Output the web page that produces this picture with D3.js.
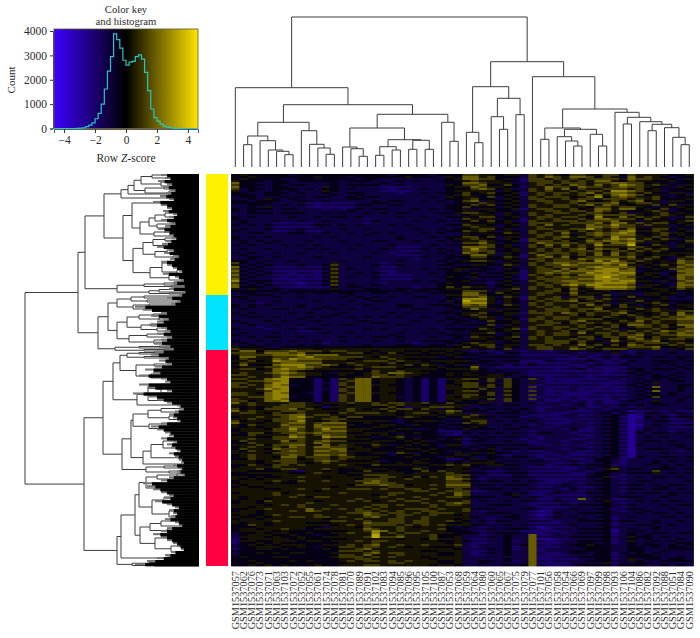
<!DOCTYPE html>
<html><head><meta charset="utf-8">
<script src="https://cdn.jsdelivr.net/npm/d3@7"></script>
<style>html,body{margin:0;background:#fff}svg{display:block}text{font-family:"Liberation Serif",serif;fill:#2a2a2a}</style>
</head><body><div id="c"></div>
<script>
const sampleIds = ["057","062","076","073","071","063","103","072","052","055","061","074","078","081","070","089","091","102","083","094","085","096","095","105","100","087","053","068",
"059","064","080","060","065","067","075","079","077","101","056","058","054","066","069","097","099","098","093","106","104","086","082","092","088","051","084","090"];
const sampleNames = sampleIds.map(d=>"GSM1537"+d);

const histBinStart = [-3.2,-3,-2.8,-2.6,-2.4,-2.2,-2,-1.8,-1.6,-1.4,-1.2,-1,-0.8,-0.6,-0.4,-0.2,0,0.2,0.4,0.6,0.8,1,1.2,1.4,1.6,1.8,2,2.2,2.4,2.6,2.8,3,3.2,3.4];
const histCounts   = [5,15,30,80,140,230,400,620,1000,1620,2350,2950,3880,3650,3300,2800,2600,2720,2750,2950,3020,2850,2300,1550,800,450,300,180,100,60,30,15,8,3];
const histTicksX = [-4,-2,0,2,4];
const histTicksY = [0,1000,2000,3000,4000];

const rowGroups = [{name:"yellow",from:0,to:121,color:"#fff200"},{name:"cyan",from:121,to:176,color:"#00e4ff"},{name:"red",from:176,to:392,color:"#ff0040"}];

// column dendrogram: [height, childA, childB]; a plain number is a leaf column index
const colTree = [150,
 [79.3,0,[62.3,
   [44.7,
     [31,[22.3,1,2],[26.3,3,[17,4,[15.7,5,[12.3,6,7]]]]],
     [36.3,8,[22.7,9,[19,10,[12.7,11,12]]]]],
   [52.7,
     [39,
       [20,13,[18.3,14,[10.7,15,16]]],
       [27.3,[20.3,[11.7,17,18],[17,19,20]],[26.7,[17.7,21,22],[17.7,23,24]]]],
     [44.7,25,[25.7,26,27]]]]],
 [105.3,
   [80.3,
     [34.7,28,[24.3,29,30]],
     [68.7,[50.3,31,[37.7,32,33]],[52.3,34,35]]],
   [90.3,36,[58,
     [39,[27.7,37,38],[37.7,[30.3,39,[26,40,[21,41,42]]],[32.7,43,[21,44,45]]]],
     [54.7,46,[49.7,[43,47,48],[45.3,49,[42.7,[36.3,50,51],[39.3,52,[29.7,53,[22.3,54,55]]]]]]]]]]];

// row dendrogram: [height, childA, childB]; a plain number is a leaf row position
const rowTree = [174,
 [121,
  [114,
   [95,
    [78,[71,[65,[58,[47,1,4],[38,8,12]],[54,[35,13,15],[30,17,21]]],20],24],
    [76,
     [67,29,[59,[50,[44,[34,39,43],[30,46,48]],[42,50,54]],[45,[30,57,59],[25,61,63]]]],
     [66,[56,[46,[34,64,67],[30,70,73]],[44,[32,76,79],[26,82,84]]],
         [49,[37,[24,[14,86,88],[10,90,92]],[22,[12,95,97],[8,99,101]]],[30,[14,100,103],[10,105,107]]]]]],
   [82,[55,[35,[25,108,110],111],[28,112,113]],[50,[40,[20,115,116],118],[30,119,120]]]],
  [101,
   [91,
    [82,[68,[55,122,124],[52,126,128]],[66,[50,130,132],[46,134,136]]],
    [82,[72,[60,[46,140,142],[40,144,146]],[58,[48,150,152],[42,154,157]]],[70,[52,160,163],[45,166,170]]]],
   [84,[60,[40,172,173],174],[55,[35,175,176],177]]]],
 [115,
  [96,
   [86,
    [79,[72,[60,[45,178,179],180],[55,[40,182,183],184]],[63,[45,190,192],[48,[30,199,201],[28,203,205]]]],
    [62,[51,[38,[25,[15,207,209],[11,211,213]],[22,[12,216,218],[10,220,222]]],[24,225,228]],231]],
   [77,
    [68,
     [66,[51,[38,[20,234,235],[16,237,239]],[30,[14,241,243],[12,245,246]]],[50,[30,249,251],[28,253,256]]],
     [56,[48,[36,[24,266,268],[18,[10,271,273],[8,275,277]]],[20,[12,280,283],[10,285,287]]],290]],
    [53,[35,292,294],[30,297,299]]]],
  [82,
   [78,
    [64,
     [60,[53,[42,[22,300,302],[18,304,306]],[36,[20,310,312],[14,316,318]]],
         [47,[35,[24,322,324],[14,[10,326,328],[8,330,332]]],[30,[16,336,338],[12,342,344]]]],
     [59,[49,[38,[20,346,348],352],[32,[18,354,356],358]],
         [44,[30,[20,361,363],[14,365,367]],[28,[14,371,373],[10,376,379]]]]],
    [32,383,385]],
   [67,[50,[35,388,389],390],[45,391,392]]]]];

// extent of the dense leaf mass, top to bottom, one value per 3 rows
const leafMass = [38,34,41,32,36,28,33,39,30,46,38,
32,36,26,30,38,28,34,41,35,30,27,
33,37,42,30,35,24,29,38,32,26,20,
36,24,18,26,17,30,16,20,32,22,28,
64,56,38,48,36,42,50,38,34,42,32,
38,44,34,30,42,48,36,40,32,44,54,
46,60,38,34,60,52,32,
66,50,42,32,22,18,24,30,26,22,
38,48,42,34,30,38,26,32,28,22,30,
24,20,18,26,20,22,17,30,38,
56,52,46,38,30,34,44,32,24,30,
26,28,34,24,20,32,38,46,38,32,
26,22,18,28,34,42,52,64];

// upper stripe of each row block
const heatRowsA = [
"4544444344444444444344443444 6655455365654665566465555445",
"4544443344344443443333333345 7766453266565656666576655435",
"7443344333334333334333333344 7765553356656665667766454344",
"7443344333354333332222333345 5765544255766576656766544354",
"5343343433354333332222333345 5555354365655656658876553444",
"4443443333334334333333333345 6445454256565565757876453345",
"3343543433333344333333333344 5644354366556566566656564445",
"4444433332222223344333333334 5565354355655656667456653544",
"3343533332222223333333333344 6444354365566554665665435454",
"4343333333333343333333333334 5545443355665665765544565344",
"3333333333333333333333333333 4555354365655565766665456545",
"4333333333333333233333333333 6555344256565565776664654345",
"3433322222333333233333333333 5445454366655666757756566454",
"3333322222333333333333333333 5655344356555557767665355344",
"4333322332233333333333333344 6565354365566465656785565345",
"3333333333333333433333333333 5445444356656456767775456454",
"4333333333333333333343333345 5654354265565546568785646535",
"3433433333333333333333333333 6675344357666656757785354345",
"3333333333333333333322233333 7776454365656565655566545354",
"3333333333333333333322233343 6766445356565666646656565444",
"3433333333333333333322233343 5775354257656565757565455545",
"3343333333333333333333233343 4554454366566576777565654365",
"6434333333335333332333333344 4444354365677677787764545576",
"7434322232235333332233333334 4443343356566667877763545576",
"7434322222235333332233333345 3443344256676777888773444377",
"7434322222235333332222333344 4433343265656577888774543477",
"7433322222235333332222333344 4333343256666677888774444376",
"6434322212235333332333333454 4332343356566777888874443376",
"7444332222224344333333233464 6553445365655656888875544576",
"4444443444444444444443443444 6663554355664654454444445444",
"3344433333333343333333333355 7764454356554655463353554434",
"3433333333333333433333333343 8885454265665656563545345333",
"3332333333333333333333333334 8885354365655566453554565344",
"4343333343343333333344333344 6664444356565655654655454445",
"3333333333333333333333333343 4453544365666565665654565566",
"3433333333334333333333333334 5654453355655646556565456576",
"3333333343333333333333333344 3455354266566566645546656677",
"3433333333333333344333333334 3335445355664656565566565566",
"3332333323333333333333333333 3354345365566565656456656557",
"3333333322333333333333333334 3445454356556465556565657667",
"4333333333333333333433333344 4544345356566555565667556677",
"3333333333333333333333333334 3554454365655656346467565665",
"3433333333323333333333233344 5655344355666464535465666565",
"5444334444444444444444444444 6456354356655656455566674455",
"5774666766656655545554454454 3232333233233434434323333333",
"5666677786777555555554444454 4433333222222333232333333333",
"4655576877766654555654444444 4433333333322223232333333343",
"4655567777755565555645554454 4443333232222332322333334333",
"4555667787654445566654454544 4733222222222323222233333343",
"5555577654444444465565544444 4543433322222222222234333333",
"6655567665544544566565544454 5545543322222322222234343433",
"6655788444242657745543424255 6646364363222222223234343433",
"6655688444232657745543424245 6645364353222222222234353333",
"6655788444242567745543424255 6656364363222322222234373343",
"5555688444242657745543424245 6645364363222322222234373343",
"6655788444242657745543424255 6646364363222222222234343433",
"6555787444242657745543424255 5546364363222322223234333343",
"7565555665455565565665564464 4453333342333332322333343333",
"5454566665425555544642556665 3333333332233332232323333333",
"7565556665555565554645555576 4443334332333222334312232322",
"5555566775665555555545555455 5653333322223322334312333233",
"5565566775566644444434444433 5553333333222322334312333223",
"7554556775677744544434444433 6563333333222332334312333222",
"5454556775777744455444444433 4543333433233332334312333222",
"4555566765677755444544444222 3333333323333322334313333233",
"4465555765676655545454444322 3333333323333322334313333333",
"5565566665565555544454544345 2343333232333223334313333333",
"4465556665765555554444544444 2333333322333332334313333333",
"4565565765776655454454444344 3434333333333332334313333343",
"5465556765776755544454454433 4444332322333322334313333323",
"4565556765776754444344544445 5444323322323222334313333333",
"4465556645665655544444454422 4534333333223223443233333333",
"5554556654565555554454554454 5555433333322323343233343333",
"4555565555555555444444554445 5433333322222233345333334333",
"5544445325545444644544464655 5332233322222332344333363333",
"4444455555555544666555555566 6332223322222223443233333333",
"5454555555555554666556555577 6323333332222223343233333333",
"4555454455555555776655555566 6333333332223323343233333333",
"4544555555554555555665555566 6333333332233322343233334333",
"5555555555455555555555665566 6223333322233323343233333333",
"5555565565555555545655556557 6333345322322223343333333433",
"5455455555555556555565565555 5333333332232273342233333333",
"4554555556555555555555565567 6333333322223233343233333333",
"5545555565555555656555556555 5333333332222333343233333333",
"4554555657655556656565566555 6323333321233333343233433333",
"4544565555655555766566556554 5333334321233333343333333333",
"4554555555545556555665565554 5332334322233343342333333333",
"5455455554445555766665665544 5332333322223333342333343333",
"4445555554435554655565455543 4323333321222333343333343333",
"4555545444444455687565565544 4323333222223333341334333333",
"3455544544344555595565556444 3323343372233333342343433333",
"2455555454444455555545546555 3223343371122333342343433343",
"2445454444444555565555555545 3223343372223344342343433344",
"3445554454344665665654554445 3233342372223344443344343443",
"4444444444444666565555544555 3223343372333444443344334333",
"3444444444444665755565555445 3223343372222333442344433333",
"4444444444444556655555554555 3333343372222233442353443443",
"4445444444444455555665555445 3343333372222333352334433333"];

// lower stripe of each row block
const heatRowsB = [
"4454444444544434444445444354 7756444365765776465375654344",
"5444344344444344433343433444 5655544266656565775465544544",
"6444343443334344443343333354 6674464356565765756876565435",
"6344344434344343333233343344 4676453365757465566656453445",
"4433444343343344333323343444 6456445256566567567765644553",
"3443334343443343443333334354 5546345365666456846765564344",
"4434443344343333343443343434 6735445356655675456567453554",
"3344334343233334433443333344 4656445365566567576545564635",
"4344434433323234344333434344 5355445256655645775774546345",
"3344434443343433434344333445 6654354365566556654635456454",
"4343333433434434333343343344 5466445356656654855756565336",
"3433343343343333343333433434 4646453265566656667553545456",
"4343433333443434333434333344 6554345365756557668665655345",
"3433433343333433433333433434 4566453356655668656574466453",
"3344333443343343343433343433 5454465365657556767874456554",
"4343433333434333333343334344 6646355356567565658665565345",
"3434343334333433344333433434 5565445266656457677676555446",
"4343334343433334333433334344 5566453365757565866694465354",
"3433433334343343334333343433 6865345356565674766475656445",
"4343343343334333343233433434 7656354365666565757565454555",
"3344343333433333433333343344 4664465256757456666674564356",
"4433433433333433333343333434 5665345356566665868656545476",
"5343433343346333343343333443 3554465365668766676855456467",
"6343333333346343333333343445 5344354356657576788674454667",
"6343433233246334343233334344 4534455256767668787884553467",
"6343332323246343343333333454 3544454256567666897765454576",
"8344433233346333333333434344 5443454365667766787885535467",
"7343433323346343343333333444 4443454356657868877763554377",
"5353343333335333443344344455 5444356365564745777764455465",
"3443334343443443344334334444 7754645356655745543533554534",
"4433343343333434343433443344 6675365265563566354464445343",
"3343343333433343344333333454 9775354356566745654436454444",
"4343433343333433433344334443 7674465365655657564643456455",
"3433344333434343343333443334 5755355355666566745546565354",
"4343333434333433333434333444 5564455266657656556745456475",
"3344343334343343434343343343 4565344356566555465456565667",
"4333434333433334433333433434 4346445365655675554657565566",
"3343343343343443333344333343 4446354356655565456477656477",
"4333233434433333434333334344 4465456265565656565345565466",
"3433343333343343333343343433 3556345356566574665656566576",
"3343443343333434344343334334 3655456365655466466576465566",
"4334343433433433343343344443 4445345355666565457556674554",
"3343433343433333433344334435 4566455366565575646476555656",
"6555445555455555555555555555 5545463356655765566655563546",
"6665777675545566454645545545 4343244333334323335324333433",
"4775566678666666546555555345 3344444333333242343444344344",
"5564587766655545666565545555 5344344222433334323243344434",
"5744478886676456554556465345 3534424343333223433433343434",
"5664578776555556455545555455 5643333333323342322344344434",
"4655678765543554565776554454 5444344323333333323343433343",
"5565568774444445576665444444 4455533433233332333433344343",
"5566778444242567745543424245 5436464333232233332333433443",
"6565787344242657755443424254 6646464322333333323343433344",
"5556878444232657745543424255 5464354323233323232333443343",
"6654787443242567755443424245 5546354333232222333333443433",
"5566788344242657745533424254 6554354322332323323333464334",
"6645778444242657745543424245 4435364323223232322343353343",
"5565556665544545566565545555 5344344333332342333434344333",
"6454666756544565456566465354 3434343432333423323343433334",
"5665465565554656665545664565 3333444343322333342432443343",
"4556556786556466444456544544 6544344232323333344211434344",
"6455466685456555555334555344 4663434343332233344212344333",
"5465557665766654445543544344 4453343323323333344211343334",
"4555466865686655544455334344 5444344333332422344212433333",
"5466456676766644555434544332 4343434334433233344214344343",
"5554466875587754434564344444 3434344332333332344213434334",
"4655557565676644455545453444 3443343323332333344213443433",
"5556466775575654465345454355 3344444433232323344214333443",
"4655476665667745544445545444 4345344344332343344213444334",
"5555466665666654455365345445 3535443333233223344213334333",
"4565547756665665554445444354 4334434432332333344214334434",
"5554566655676544453444544434 3445344344333432443233343434",
"4465466565555654465555445565 6445544334233434442233434343",
"5556456655565445555444654455 4344344333332234356344344434",
"4455555445655455555554555565 4443344433333223443344453434",
"5545445565545555556654646576 5433334433333334452334344343",
"4555565465565556676555555566 5434434343222333443334433334",
"5455555555555546667664556577 7444344433334334443444343443",
"5555445565565566656556656556 5344434343332433443344344343",
"4555564555555655555665555657 6333343432343334443343443434",
"5455555654665555556555655566 5444334343233333443444334333",
"4554655555455565645656655655 6343343443343333453334343443",
"5555456565556555566565556566 5334443323334344443343334344",
"4455655557565656565556665655 6444333443233433442344333433",
"5554555555555566765665656665 5334443332243344443334344343",
"5445455665665655675565565555 5433344332343433442343334434",
"5555565555556655655665665565 4343443343323344443443343343",
"4465455555554565666656565655 5443343433333433442334433433",
"4554556554555555765565555644 3334344432233344442343343333",
"3445455445445565585656655554 4433444322332344442343344344",
"3555454454455555696675556445 3334343373333444443354434333",
"2554455545545556566555555445 4333342373223344442353343433",
"3454545554455565675565565556 3233343473233445443343443434",
"2445545444454556755555555554 3334342372333334443344333444",
"3445454554445555675665555445 3234343373223443442434343333",
"4544455444445666565655545555 3333333372233344443344443343",
"4454444545444565665656555445 3344342373233334443354334444",
"4454545444544555665555554554 3333343473222344443444334343"];

const W=700,H=638;
const svg=d3.select("#c").append("svg").attr("width",W).attr("height",H).attr("viewBox",`0 0 ${W} ${H}`);
const zColor=d3.scaleLinear().domain([-4.65,0,4.65]).range(["#3c00ff","#000000","#ffe400"]);

/* ---------- colour key ---------- */
const kx=d3.scaleLinear().domain([-4.65,4.65]).range([54,198]);
const ky=d3.scaleLinear().domain([0,4000]).range([128.5,31]);
const keyDefs=svg.append("defs").append("linearGradient").attr("id","keyGrad");
keyDefs.selectAll("stop").data([-4.65,0,4.65]).join("stop")
 .attr("offset",d=>(kx(d)-54)/144).attr("stop-color",d=>zColor(d));
svg.append("rect").attr("x",54).attr("y",29).attr("width",144).attr("height",99.5).attr("fill","url(#keyGrad)").attr("stroke","#5a5a2a").attr("stroke-width",0.8);
const histPts=[[kx.domain()[0],0]];
histPts.push([histBinStart[0],0]);
histBinStart.forEach((s,i)=>{histPts.push([s,histCounts[i]],[s+0.2,histCounts[i]]);});
histPts.push([histBinStart[histBinStart.length-1]+0.2,0]);
histPts.push([kx.domain()[1],0]);
svg.append("path").attr("d",d3.line().x(d=>kx(d[0])).y(d=>ky(d[1]))(histPts))
 .attr("fill","none").attr("stroke","#2bc4c4").attr("stroke-width",1.2);
const axX=svg.append("g").attr("transform","translate(0,129)").call(d3.axisBottom(kx).tickValues(histTicksX).tickSize(4).tickFormat(d=>d<0?"−"+(-d):d));
axX.select(".domain").attr("stroke","#333").attr("stroke-width",.8);
axX.selectAll("line").attr("stroke","#333");
axX.selectAll("text").attr("font-size",11.5).attr("y",7).attr("dy","0.71em").style("font-family",'"Liberation Serif"');
const axY=svg.append("g").attr("transform","translate(53,0)").call(d3.axisLeft(ky).tickValues(histTicksY).tickSize(3).tickFormat(d=>d));
axY.select(".domain").attr("stroke","#333").attr("stroke-width",.8);
axY.selectAll("line").attr("stroke","#333");
axY.selectAll("text").attr("font-size",11.5).style("font-family",'"Liberation Serif"');
svg.append("text").attr("x",126).attr("y",13).attr("text-anchor","middle").attr("font-size",10.7).text("Color key");
svg.append("text").attr("x",126).attr("y",24.5).attr("text-anchor","middle").attr("font-size",10.7).text("and histogram");
const xl=svg.append("text").attr("x",126).attr("y",162).attr("text-anchor","middle").attr("font-size",11.5);
xl.append("tspan").text("Row ");xl.append("tspan").attr("font-style","italic").text("Z");xl.append("tspan").text("-score");
svg.append("text").attr("transform","translate(15,80) rotate(-90)").attr("text-anchor","middle").attr("font-size",11).text("Count");

/* ---------- heat map ---------- */
const hx=d3.scaleBand().domain(d3.range(56)).range([231.2,693.4]);
const stripes=heatRowsA.flatMap((a,i)=>[a,heatRowsB[i]]).filter(Boolean);
const hy=d3.scaleBand().domain(d3.range(stripes.length)).range([174,566]);
const digitZ=d=>(d-4.5)*0.75;
const hm=svg.append("g").style("filter","blur(0.5px)");
hm.append("rect").attr("x",231.2).attr("y",174).attr("width",462.2).attr("height",392).attr("fill","#000");
stripes.forEach((row,r)=>{
  const vals=row.replace(" ","").split("").map(Number);
  hm.append("g").selectAll("rect").data(vals).join("rect")
   .attr("x",(d,i)=>hx(i)).attr("y",hy(r)).attr("width",hx.bandwidth()+.4).attr("height",hy.bandwidth()+.4)
   .attr("fill",d=>zColor(digitZ(d)));
});

/* ---------- side colour bar ---------- */
const rowY=d3.scaleLinear().domain([0,392]).range([174,566]);
svg.append("g").selectAll("rect").data(rowGroups).join("rect")
 .attr("x",206).attr("width",22).attr("y",d=>rowY(d.from)).attr("height",d=>rowY(d.to)-rowY(d.from)).attr("fill",d=>d.color);

/* ---------- column dendrogram ---------- */
const colH=d3.scaleLinear().domain([0,150]).range([167,17]);
const gTop=svg.append("g").attr("fill","none").attr("stroke","#3c3c3c").attr("stroke-width",1);
function drawCol(n){
  if(typeof n==="number") return {x:hx(n)+hx.bandwidth()/2,h:0};
  const a=drawCol(n[1]),b=drawCol(n[2]),y=colH(n[0]);
  gTop.append("path").attr("d",`M${a.x},${colH(a.h)}V${y}H${b.x}V${colH(b.h)}`);
  return {x:(a.x+b.x)/2,h:n[0]};
}
drawCol(colTree);

/* ---------- row dendrogram ---------- */
const rowX=d3.scaleLinear().domain([0,174]).range([199,25]);
const gLeft=svg.append("g").attr("fill","none").attr("stroke","#3c3c3c").attr("stroke-width",1);
function drawRow(n){
  if(typeof n==="number") return {y:rowY(n),h:0};
  const a=drawRow(n[1]),b=drawRow(n[2]),x=rowX(n[0]);
  gLeft.append("path").attr("d",`M${rowX(a.h)},${a.y}H${x}V${b.y}H${rowX(b.h)}`);
  return {y:(a.y+b.y)/2,h:n[0]};
}
drawRow(rowTree);
const massY=d3.scaleBand().domain(d3.range(leafMass.length)).range([174,566]);
const gMass=svg.append("g");
gMass.selectAll("rect.g").data(leafMass).join("rect").attr("class","g")
 .attr("x",d=>rowX(d)).attr("y",(d,i)=>massY(i)).attr("width",d=>rowX(0)-rowX(d)).attr("height",massY.bandwidth()*0.7).attr("fill","#777");
gMass.selectAll("rect.k").data(leafMass).join("rect").attr("class","k")
 .attr("x",d=>rowX(d*0.84)).attr("y",(d,i)=>massY(i)).attr("width",d=>rowX(0)-rowX(d*0.84)).attr("height",massY.bandwidth()+.3).attr("fill","#000");

/* ---------- sample labels ---------- */
svg.append("g").selectAll("text").data(sampleNames).join("text")
 .attr("transform",(d,i)=>`translate(${hx(i)+hx.bandwidth()/2+3.4},571) rotate(-90)`)
 .attr("text-anchor","end").attr("font-size",10.3).text(d=>d);
</script></body></html>
